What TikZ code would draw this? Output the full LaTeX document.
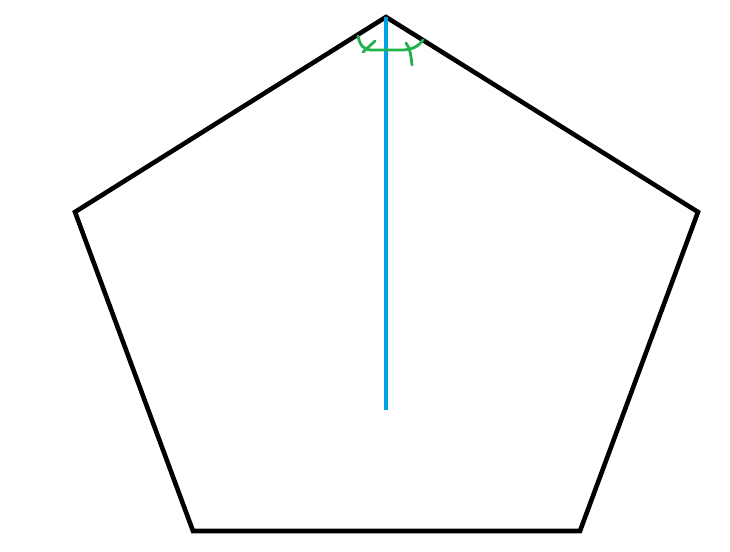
\documentclass[tikz,border=0pt]{standalone}
\begin{document}
\begin{tikzpicture}[x=1pt,y=-1pt,
  edge/.style={line width=4.6pt,black,line join=miter},
  axis/.style={line width=4pt,color={rgb,255:red,0;green,162;blue,232}},
  anglemark/.style={line width=2.8pt,color={rgb,255:red,34;green,177;blue,76},line cap=round,line join=round}]
\useasboundingbox (0,0) rectangle (730,551);
\coordinate (A) at (386,17);
\coordinate (B) at (698,212);
\coordinate (C) at (580,531);
\coordinate (D) at (193,531);
\coordinate (E) at (75,212);
\coordinate (M) at (386,410);
\draw[edge] (A) -- (B) -- (C) -- (D) -- (E) -- cycle;
\draw[axis] (A) -- (M);
\draw[anglemark] (358,36) .. controls (360,46) and (364,50) .. (372,50) -- (402,50) .. controls (412,50) and (419,46) .. (423,40);
\draw[anglemark] (363,52) -- (375,41);
\draw[anglemark] (406,43) .. controls (410,48) and (411,56) .. (412,65);
\end{tikzpicture}
\end{document}
